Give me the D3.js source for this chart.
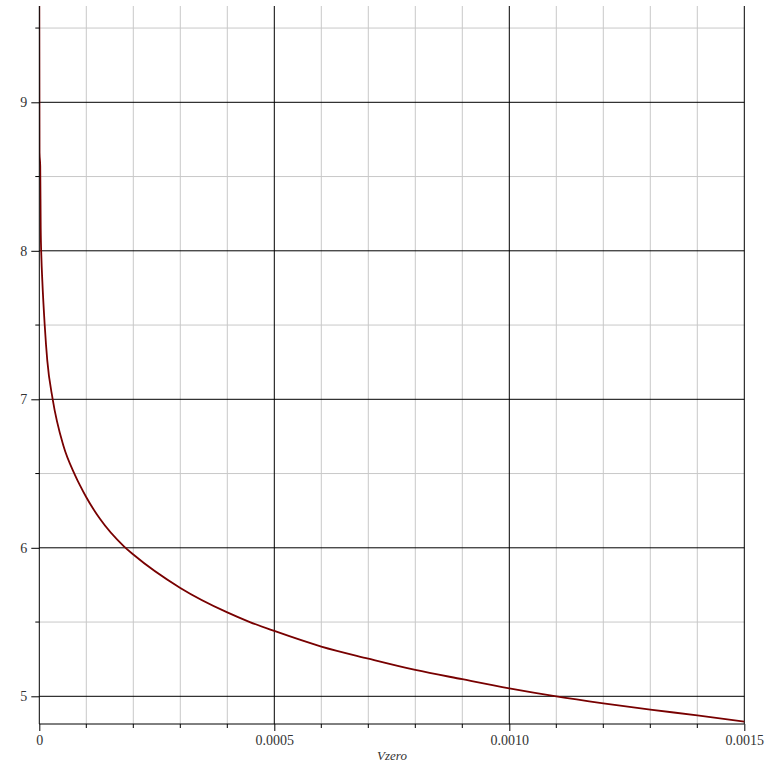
<!DOCTYPE html>
<html>
<head>
<meta charset="utf-8">
<script src="https://cdn.jsdelivr.net/npm/d3@7"></script>
<style>
  html, body { margin: 0; padding: 0; background: #fff; }
  svg { display: block; }
  svg text { font-family: "Liberation Serif", "Times New Roman", Tinos, "DejaVu Serif", serif !important; fill: #333; }
  svg text.tl { font-size: 14px !important; }
  svg text.tt { font-size: 13px !important; font-style: italic; }
</style>
</head>
<body>
<svg id="chart" width="768" height="768"></svg>
<script>
// Data
const vzero = [0, 0.0000005, 0.000002, 0.000003, 0.0000045, 0.0000064, 0.0000115, 0.000017,
  0.0000285, 0.000051, 0.000076, 0.0000866, 0.0001, 0.000129, 0.00018, 0.0002, 0.0003,
  0.0004, 0.000448, 0.0005, 0.0006, 0.0007, 0.0008, 0.0009, 0.0010, 0.0011, 0.0012,
  0.0013, 0.0014, 0.0015];
const yvals = [9.75, 8.66, 8.57, 8.15, 7.95, 7.80, 7.50, 7.26,
  7.00, 6.69, 6.49, 6.42, 6.34, 6.195, 6.01, 5.955, 5.73,
  5.565, 5.50, 5.44, 5.335, 5.254, 5.178, 5.115, 5.054, 5.0, 4.953,
  4.91, 4.872, 4.829];
const xMajorTicks = [0, 0.0005, 0.0010, 0.0015];
const xMajorLabels = ["0", "0.0005", "0.0010", "0.0015"];
const yMajorTicks = [5, 6, 7, 8, 9];
const yMinorTicks = [5.5, 6.5, 7.5, 8.5, 9.5];
const xMinorTicks = [0.0001, 0.0002, 0.0003, 0.0004, 0.0006, 0.0007, 0.0008, 0.0009,
  0.0011, 0.0012, 0.0013, 0.0014];
const xTitle = "Vzero";

const pLeft = 39.3, pRight = 744.3, pTop = 6, pBottom = 724;
const x = d3.scaleLinear().domain([0, 0.0015]).range([pLeft, pRight]);
const y = d3.scaleLinear().domain([5, 9]).range([696.3, 102.3]);

const svg = d3.select("#chart");

svg.append("defs").append("clipPath").attr("id", "clip")
  .append("rect").attr("x", pLeft).attr("y", pTop).attr("width", pRight - pLeft + 2).attr("height", pBottom - pTop);

const grid = svg.append("g");
grid.selectAll(".gxm").data(xMinorTicks).join("line")
  .attr("x1", d => x(d)).attr("x2", d => x(d)).attr("y1", pTop).attr("y2", pBottom)
  .attr("stroke", "#c8c8c8").attr("stroke-width", 1);
grid.selectAll(".gym").data(yMinorTicks).join("line")
  .attr("x1", pLeft).attr("x2", pRight).attr("y1", d => y(d)).attr("y2", d => y(d))
  .attr("stroke", "#c8c8c8").attr("stroke-width", 1);
grid.selectAll(".gxM").data(xMajorTicks.slice(1)).join("line")
  .attr("x1", d => x(d)).attr("x2", d => x(d)).attr("y1", pTop).attr("y2", pBottom)
  .attr("stroke", "#000").attr("stroke-width", 1);
grid.selectAll(".gyM").data(yMajorTicks).join("line")
  .attr("x1", pLeft).attr("x2", pRight).attr("y1", d => y(d)).attr("y2", d => y(d))
  .attr("stroke", "#000").attr("stroke-width", 1);

const line = d3.line().x(d => x(d[0])).y(d => y(d[1])).curve(d3.curveMonotoneX);
svg.append("path")
  .datum(vzero.map((v, i) => [v, yvals[i]]))
  .attr("clip-path", "url(#clip)")
  .attr("d", line)
  .attr("fill", "none").attr("stroke", "#780000").attr("stroke-width", 1.8);

const yAxisG = svg.append("g").attr("transform", `translate(${pLeft},0)`);
yAxisG.call(d3.axisLeft(y).tickValues(yMajorTicks).tickSize(8).tickFormat(d3.format("d")));
yAxisG.select(".domain").remove();
yAxisG.append("g").selectAll("line").data(yMinorTicks).join("line")
  .attr("x1", -4).attr("x2", 0).attr("y1", d => y(d)).attr("y2", d => y(d)).attr("stroke", "#000");
yAxisG.append("line").attr("x1", 0).attr("x2", 0).attr("y1", pTop).attr("y2", pBottom).attr("stroke", "#000");
yAxisG.selectAll(".tick text").attr("class", "tl").attr("x", -12).attr("fill", "#333");

const xAxisG = svg.append("g").attr("transform", `translate(0,${pBottom})`);
xAxisG.call(d3.axisBottom(x).tickValues(xMajorTicks).tickSize(7)
  .tickFormat((d, i) => xMajorLabels[i]));
xAxisG.select(".domain").remove();
xAxisG.append("g").selectAll("line").data(xMinorTicks).join("line")
  .attr("x1", d => x(d)).attr("x2", d => x(d)).attr("y1", 0).attr("y2", 4).attr("stroke", "#000");
xAxisG.append("line").attr("x1", pLeft).attr("x2", pRight).attr("y1", 0).attr("y2", 0).attr("stroke", "#000");
xAxisG.selectAll(".tick text").attr("class", "tl").attr("y", 11).attr("fill", "#333");

svg.append("text").attr("class", "tt").attr("x", 392).attr("y", 760).attr("text-anchor", "middle")
  .text(xTitle);
</script>
</body>
</html>
